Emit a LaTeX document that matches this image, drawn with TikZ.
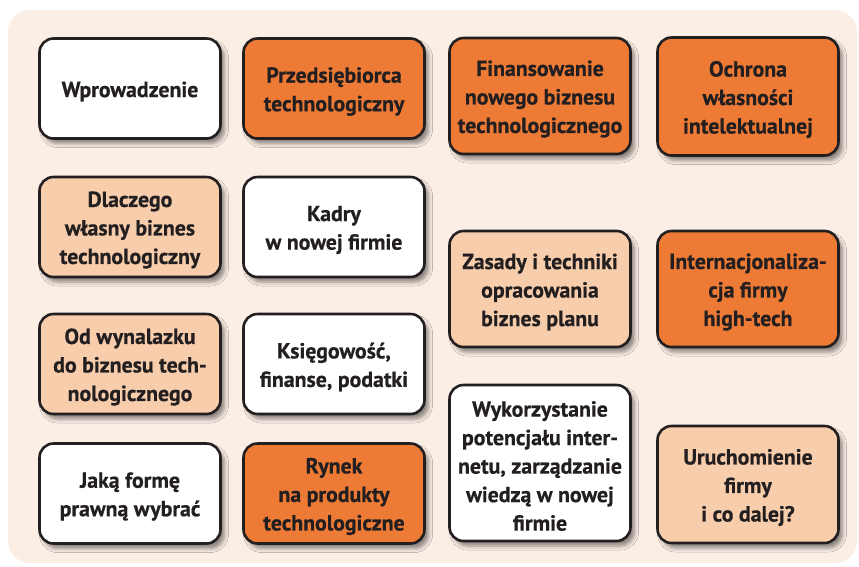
\documentclass[tikz,border=0pt]{standalone}
\usepackage{fontspec}
\setmainfont{PT Sans}[BoldFeatures={FakeBold=0.6}]
\usetikzlibrary{shadows.blur}
\definecolor{tileorange}{HTML}{ED7B36}
\definecolor{tilepeach}{HTML}{F8CDAC}
\definecolor{tilewhite}{HTML}{FFFFFF}
\definecolor{panelbg}{HTML}{FBEEE5}
\definecolor{inkdark}{HTML}{231F20}
\tikzset{
  tile/.style={draw=inkdark, line width=2.6pt, rounded corners=14pt,
    minimum width=181pt, inner sep=0pt,
    blur shadow={shadow xshift=4pt, shadow yshift=-5pt,
      shadow blur radius=4pt, shadow opacity=45}},
  tiletext/.style={align=center, text=inkdark, inner sep=0pt,
    font=\fontsize{21.8}{28.5}\selectfont\bfseries},
}
% name/x/y/height/colour/text
\newcommand{\tiles}{%
  intro/130/88.5/100/tilewhite/{Wprowadzenie},
  founder/334/88.5/100/tileorange/{Przedsiębiorca\\technologiczny},
  funding/540/96/116/tileorange/{Finansowanie\\nowego biznesu\\technologicznego},
  ipr/748/96.5/118/tileorange/{Ochrona\\własności\\intelektualnej},
  why/130/227/100/tilepeach/{Dlaczego\\własny biznes\\technologiczny},
  staff/334/227/100/tilewhite/{Kadry\\w nowej firmie},
  plan/540/289/116/tilepeach/{Zasady i techniki\\opracowania\\biznes planu},
  intl/748/289/116/tileorange/{Internacjonaliza-\\cja firmy\\high-tech},
  invent/130/364/100/tilepeach/{Od wynalazku\\do biznesu tech-\\nologicznego},
  money/334/364/100/tilewhite/{Księgowość,\\finanse, podatki},
  web/540/463/156/tilewhite/{Wykorzystanie\\potencjału inter-\\netu, zarządzanie\\wiedzą w nowej\\firmie},
  start/748/484.5/117/tilepeach/{Uruchomienie\\firmy\\i co dalej?},
  legal/130/493.5/100/tilewhite/{Jaką formę\\prawną wybrać},
  market/334/493.5/100/tileorange/{Rynek\\na produkty\\technologiczne}%
}

\begin{document}
\begin{tikzpicture}[x=1pt,y=-1pt]
  \useasboundingbox (0,0) rectangle (859,566);
  % panel behind the tiles
  \fill[panelbg, rounded corners=22pt] (8,10) rectangle (857,563);
  \foreach \nm/\x/\y/\h/\c/\t in \tiles {
    \node[tile, fill=\c, minimum height=\h pt] (\nm) at (\x,\y) {};
    \node[tiletext] (\nm-label) at ([yshift=-3pt]\nm.center) {\t};
  }
\end{tikzpicture}
\end{document}
